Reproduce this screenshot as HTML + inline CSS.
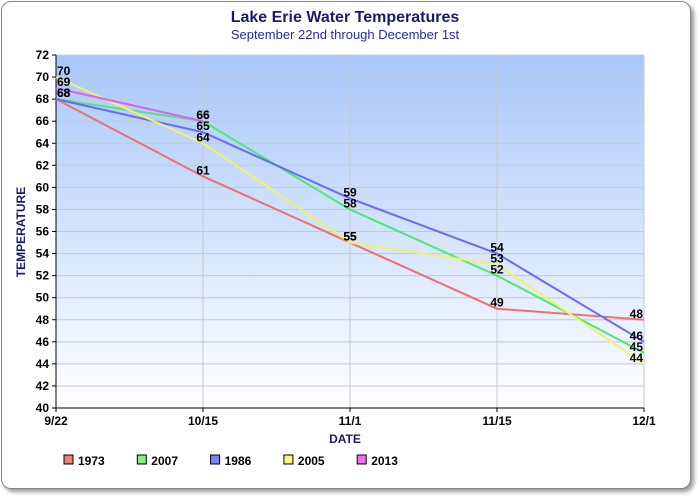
<!DOCTYPE html>
<html><head><meta charset="utf-8"><style>
body{margin:0;background:#fff;font-family:"Liberation Sans",sans-serif}
#card{position:absolute;left:1px;top:1px;width:688px;height:486px;border:1px solid #888;border-radius:10px;box-shadow:3px 3px 4px #999;background:#fff}
</style></head><body>
<div id="card"></div>
<svg id="c" width="700" height="500" style="position:absolute;left:0;top:0">
<defs><linearGradient id="bg" x1="0" y1="0" x2="0" y2="1"><stop offset="0" stop-color="#a8c8fa"/><stop offset="1" stop-color="#ffffff"/></linearGradient></defs>
<text x="345" y="22" text-anchor="middle" font-size="16" font-weight="bold" fill="#1a1a6e">Lake Erie Water Temperatures</text>
<text x="345" y="39" text-anchor="middle" font-size="13" fill="#2a2a9e">September 22nd through December 1st</text>
<text x="345" y="443" text-anchor="middle" font-size="12" font-weight="bold" fill="#1a1a6e">DATE</text>
<text transform="translate(25,232) rotate(-90)" text-anchor="middle" font-size="12" font-weight="bold" fill="#1a1a6e">TEMPERATURE</text>
<g id="g"></g>
</svg>
<script>
const categories=["9/22","10/15","11/1","11/15","12/1"];
const yTicks=[40,42,44,46,48,50,52,54,56,58,60,62,64,66,68,70,72];
const seriesNames=["1973","2007","1986","2005","2013"];
const s1973=[68,61,55,49,48];
const s2007=[68,66,58,52,45];
const s1986=[68,65,59,54,46];
const s2005=[70,64,55,53,44];
const s2013=[69,66];
const seriesVals=[s1973,s2007,s1986,s2005,s2013];
const lineColors=["#f07070","#50e870","#6a6af8","#f0f070","#e060f0"];
const boxColors=["#f08080","#80f080","#8080f8","#f8f880","#f070f0"];
const L=56,R=644,T=55,B=408,ymin=40,ymax=72;
const X=i=>L+i*(R-L)/(categories.length-1);
const Y=v=>B-(v-ymin)*(B-T)/(ymax-ymin);
const NS="http://www.w3.org/2000/svg",g=document.getElementById('g');
function mk(t,a,p){const e=document.createElementNS(NS,t);for(const k in a)e.setAttribute(k,a[k]);(p||g).appendChild(e);return e;}
const bg=mk('rect',{x:L,y:T,width:R-L,height:B-T,fill:'url(#bg)'});


yTicks.forEach(v=>{
 const l=mk('line',{x1:L,x2:R,y1:Y(v),y2:Y(v),stroke:'#c8c8c8'});
 
 
 mk('line',{x1:L-4,x2:L,y1:Y(v),y2:Y(v),stroke:'#000'});
 const t=mk('text',{x:L-7,y:Y(v)+4,'text-anchor':'end','font-size':12,'font-weight':'bold'});t.textContent=v;
 
 
});
categories.forEach((c,i)=>{
 const l=mk('line',{x1:X(i),x2:X(i),y1:T,y2:B,stroke:'#c8c8c8'});
 
 
 mk('line',{x1:X(i),x2:X(i),y1:B,y2:B+4,stroke:'#000'});
 const t=mk('text',{x:X(i),y:B+17,'text-anchor':'middle','font-size':12,'font-weight':'bold'});t.textContent=c;
 
 
});
mk('line',{x1:L,x2:L,y1:T,y2:B,stroke:'#000'});
mk('line',{x1:L,x2:R,y1:B,y2:B,stroke:'#000'});
seriesVals.forEach((s,k)=>{
 const p=mk('polyline',{points:s.map((v,i)=>X(i)+','+Y(v)).join(' '),fill:'none',stroke:lineColors[k],'stroke-width':2});
 
 
});
seriesVals.forEach((s,k)=>s.forEach((v,i)=>{
 const last=i===categories.length-1, first=i===0;
 const t=mk('text',{x:first?X(i)+1:last?X(i)-1:X(i),y:Y(v)-2,'text-anchor':first?'start':last?'end':'middle','font-size':12,'font-weight':'bold'});t.textContent=v;
 
 
}));
seriesNames.forEach((n,k)=>{
 const x=64+k*73.3;
 const r=mk('rect',{x:x,y:455,width:9,height:9,fill:boxColors[k],stroke:'#000'});
 
 
 const t=mk('text',{x:x+14,y:465,'font-size':12,'font-weight':'bold'});t.textContent=n;
 
 
});
</script>
</body></html>
